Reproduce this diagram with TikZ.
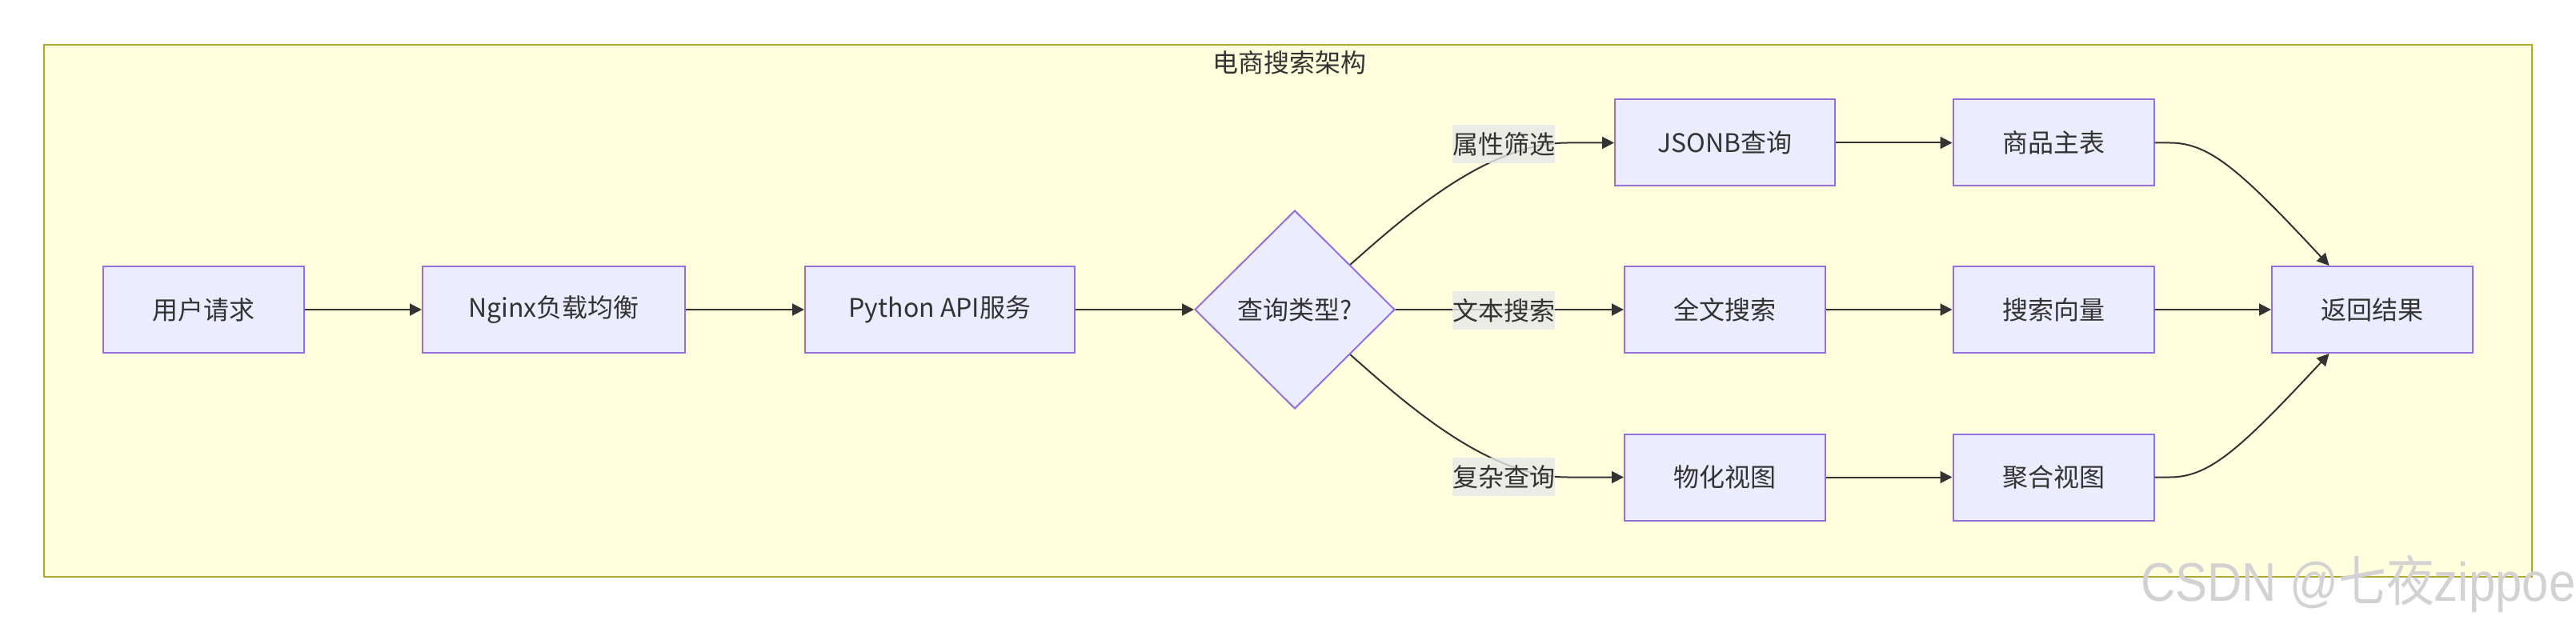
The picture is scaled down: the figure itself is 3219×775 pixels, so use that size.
\documentclass[tikz,border=0pt]{standalone}
\usepackage{fontspec}
\setmainfont{Noto Sans CJK SC}
\newfontfamily\wmfont{Liberation Sans}
\usetikzlibrary{arrows.meta,shapes.geometric,calc}
\definecolor{clfill}{HTML}{FFFFDE}
\definecolor{clline}{HTML}{AAAA33}
\definecolor{nfill}{HTML}{ECECFF}
\definecolor{nline}{HTML}{9370DB}
\definecolor{txt}{HTML}{333333}
\definecolor{lblbg}{HTML}{E8E8E8}
\definecolor{wmgray}{HTML}{D2D2D2}
\begin{document}
\begin{tikzpicture}[x=0.5pt,y=-0.5pt,
  box/.style={draw=nline, fill=nfill, line width=1pt, text=txt,
    font=\fontsize{16}{19}\selectfont, minimum height=54pt, inner sep=0pt},
  decision/.style={box, shape=diamond, minimum width=125pt, minimum height=124pt},
  edge/.style={draw=txt, line width=1pt, -{Triangle[length=7.5pt,width=7.5pt]}},
  elabel/.style={fill=lblbg, fill opacity=0.8, text opacity=1, text=txt,
    font=\fontsize{16}{19}\selectfont, inner sep=0pt, minimum width=64pt, minimum height=24pt},
  cluster/.style={draw=clline, fill=clfill, line width=1pt}
]
\useasboundingbox (0,0) rectangle (3219,775);
\fill[white] (0,0) rectangle (3219,775);

% cluster
\draw[cluster] (55,56) rectangle (3164,721);
\node[text=txt, font=\fontsize{16}{19}\selectfont] (title) at (1611,78) {电商搜索架构};

% nodes
\node[box, minimum width=125.5pt] (u) at (254.5,387) {用户请求};
\node[box, minimum width=164pt] (n) at (692,387) {Nginx负载均衡};
\node[box, minimum width=168.5pt] (p) at (1174.5,387) {Python API服务};
\node[decision] (d) at (1618,387) {查询类型?};
\node[box, minimum width=137.5pt] (j) at (2155.5,178.5) {JSONB查询};
\node[box, minimum width=125.5pt] (f) at (2155.5,387) {全文搜索};
\node[box, minimum width=125.5pt] (m) at (2155.5,596.5) {物化视图};
\node[box, minimum width=125.5pt] (s1) at (2566,178.5) {商品主表};
\node[box, minimum width=125.5pt] (s2) at (2566,387) {搜索向量};
\node[box, minimum width=125.5pt] (s3) at (2566,596.5) {聚合视图};
\node[box, minimum width=125.5pt] (r) at (2964.5,387) {返回结果};

% helper coordinates
\coordinate (dne) at ($(d.north)!0.55!(d.east)$);
\coordinate (dse) at ($(d.south)!0.55!(d.east)$);
\coordinate (ja) at ([xshift=-29pt]j.west);
\coordinate (ma) at ([xshift=-35pt]m.west);
\coordinate (rt) at ([xshift=-27pt]r.north);
\coordinate (rb) at ([xshift=-27pt]r.south);

% edges
\draw[edge] (u) -- (n);
\draw[edge] (n) -- (p);
\draw[edge] (p) -- (d);
\draw[edge] (dne) .. controls +(70,-62) and +(-100,0) .. (ja) -- (j.west);
\draw[edge] (d.east) -- (f.west);
\draw[edge] (dse) .. controls +(70,62) and +(-100,0) .. (ma) -- (m.west);
\draw[edge] (j) -- (s1);
\draw[edge] (f) -- (s2);
\draw[edge] (m) -- (s3);
\draw[edge] (s1.east) -- ++(19,0) .. controls +(50,0) and +(-110,-118) .. (rt);
\draw[edge] (s2) -- (r);
\draw[edge] (s3.east) -- ++(19,0) .. controls +(50,0) and +(-110,118) .. (rb);

% edge labels
\node[elabel] (l1) at (1879,180) {属性筛选};
\node[elabel] (l2) at (1879,388) {文本搜索};
\node[elabel] (l3) at (1879,596) {复杂查询};

% watermark
\node[text=wmgray, xscale=0.88, font=\fontsize{34}{40}\selectfont, inner sep=0pt, anchor=base west] (wm) at (2675,751) {{\wmfont CSDN @}七夜{\wmfont zippoe}};
\end{tikzpicture}
\end{document}
